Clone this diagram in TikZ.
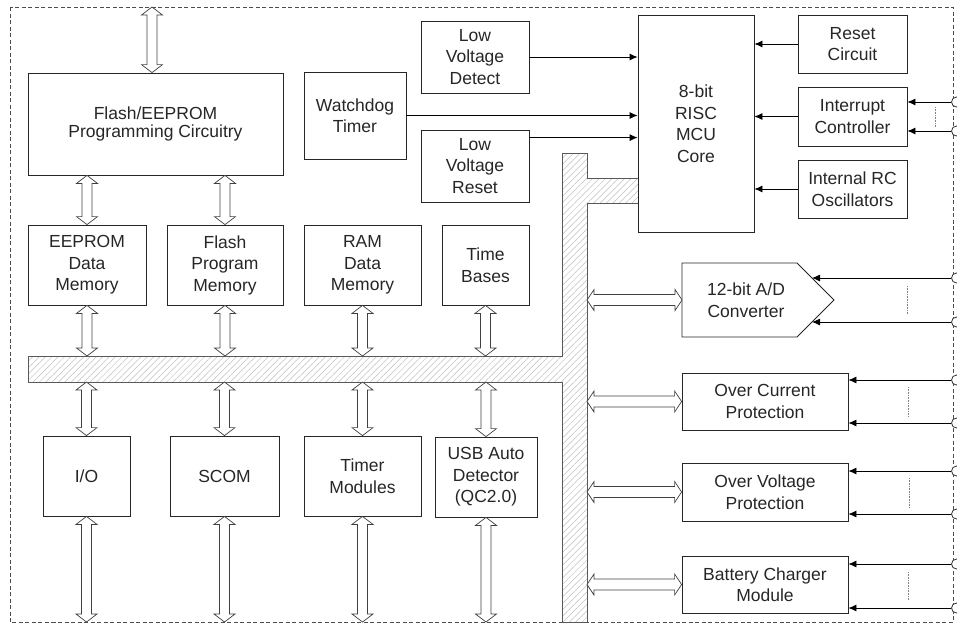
\documentclass[tikz,border=0pt]{standalone}
\usepackage{fontspec}
\setmainfont{Liberation Sans}
\usetikzlibrary{arrows.meta,patterns.meta,calc}
\newcommand\VArrow[2]{%
  \path[busarrow] let \p1=(#1), \p2=(#2) in
   (\x1,\y1) -- (\x1+10.5pt,\y1-8pt) -- (\x1+5pt,\y1-8pt) -- (\x1+5pt,\y2+8pt) -- (\x1+10.5pt,\y2+8pt)
   -- (\x1,\y2) -- (\x1-10.5pt,\y2+8pt) -- (\x1-5pt,\y2+8pt) -- (\x1-5pt,\y1-8pt) -- (\x1-10.5pt,\y1-8pt) -- cycle;}
\newcommand\HArrow[2]{%
  \path[busarrow] let \p1=(#1), \p2=(#2) in
   (\x1,\y1) -- (\x1+7pt,\y1+10.5pt) -- (\x1+7pt,\y1+5.5pt) -- (\x2-7pt,\y1+5.5pt) -- (\x2-7pt,\y1+10.5pt)
   -- (\x2,\y1) -- (\x2-7pt,\y1-10.5pt) -- (\x2-7pt,\y1-5.5pt) -- (\x1+7pt,\y1-5.5pt) -- (\x1+7pt,\y1-10.5pt) -- cycle;}
\begin{document}
\begin{tikzpicture}[x=1pt,y=-1pt,
  box/.style={draw=black!85, line width=0.8pt, inner sep=0pt, align=center, text=black!85,
    font=\fontsize{17.5}{21.5}\selectfont},
  txt/.style={inner sep=0pt, align=center, text=black!85, font=\fontsize{17.5}{21.5}\selectfont},
  busarrow/.style={draw=black!75, line width=0.7pt, fill=white},
  sig/.style={draw=black, line width=0.8pt, -{Latex[length=8pt,width=7pt]}},
  pin/.style={circle, draw=black!80, fill=white, line width=0.8pt, minimum size=10pt, inner sep=0pt},
  dots/.style={draw=gray, line width=0.6pt, densely dotted},
  bus/.style={draw=black!65, line width=0.8pt, pattern={Lines[angle=45,distance=4.5pt,line width=0.5pt]}, pattern color=gray!50}
]
\useasboundingbox (0,0) rectangle (957,625);
% border
\draw[black!70, line width=0.7pt, dash pattern=on 4pt off 2.5pt] (10,7) rectangle (953,622);

% named reference coordinates
\coordinate (busTop) at (0,356);
\coordinate (busBot) at (0,382);
\coordinate (busR) at (587,0);
\coordinate (botE) at (0,622);
\coordinate (topE) at (152,7);

% bus
\draw[bus] (28,356) -- (562,356) -- (562,153) -- (587,153) -- (587,178) -- (638,178) -- (638,203)
  -- (587,203) -- (587,622) -- (562,622) -- (562,382) -- (28,382) -- cycle;

% left blocks
\node[box, minimum width=255pt, minimum height=102pt, font=\fontsize{17.5}{18.5}\selectfont] (flash) at (155.5,124) {Flash/EEPROM\\Programming Circuitry};
\node[box, minimum width=102pt, minimum height=87pt] (wdt) at (355,115.5) {Watchdog\\Timer};
\node[box, minimum width=108pt, minimum height=72pt] (lvd) at (475,57) {Low\\Voltage\\Detect};
\node[box, minimum width=108pt, minimum height=72pt] (lvr) at (475,166) {Low\\Voltage\\Reset};
\node[box, minimum width=116pt, minimum height=217pt, fill=white] (core) at (696,123.5) {8-bit\\RISC\\MCU\\Core};
\node[box, minimum width=109pt, minimum height=58pt] (reset) at (852.5,44) {Reset\\Circuit};
\node[box, minimum width=109pt, minimum height=59pt] (intc) at (852.5,116.5) {Interrupt\\Controller};
\node[box, minimum width=109pt, minimum height=58pt] (rcosc) at (852.5,189) {Internal RC\\Oscillators};

\node[box, minimum width=118pt, minimum height=80pt] (eep) at (87,265) {EEPROM\\Data\\Memory};
\node[box, minimum width=116pt, minimum height=80pt] (fpm) at (225,265) {Flash\\Program\\Memory};
\node[box, minimum width=117pt, minimum height=80pt] (ram) at (362.5,265) {RAM\\Data\\Memory};
\node[box, minimum width=87pt, minimum height=80pt] (tb) at (485.5,265) {Time\\Bases};

\node[box, minimum width=87pt, minimum height=80pt] (io) at (86.5,476) {I/O};
\node[box, minimum width=109pt, minimum height=80pt] (scom) at (224.5,476) {SCOM};
\node[box, minimum width=117pt, minimum height=80pt] (tmr) at (362.5,476) {Timer\\Modules};
\node[box, minimum width=102pt, minimum height=80pt] (usb) at (486,477) {USB Auto\\Detector\\(QC2.0)};

% right peripherals
\draw[draw=black!85, line width=0.8pt] (682,263) -- (797,263) -- (834,300) -- (797,337) -- (682,337) -- cycle;
\node[txt] (adc) at (746,300) {12-bit A/D\\Converter};
\coordinate (adcW) at (682,300);
\coordinate (adcIn1) at (812,278);
\coordinate (adcIn2) at (812,322);
\node[box, minimum width=166pt, minimum height=57pt] (ocp) at (765,401.5) {Over Current\\Protection};
\node[box, minimum width=166pt, minimum height=58pt] (ovp) at (765,492) {Over Voltage\\Protection};
\node[box, minimum width=166pt, minimum height=57pt] (bcm) at (765,584.5) {Battery Charger\\Module};

% hollow bus arrows (vertical)
\VArrow{topE}{topE |- flash.north}
\VArrow{eep.north |- flash.south}{eep.north}
\VArrow{fpm.north |- flash.south}{fpm.north}
\VArrow{eep.south}{eep.south |- busTop}
\VArrow{fpm.south}{fpm.south |- busTop}
\VArrow{ram.south}{ram.south |- busTop}
\VArrow{tb.south}{tb.south |- busTop}
\VArrow{io.north |- busBot}{io.north}
\VArrow{scom.north |- busBot}{scom.north}
\VArrow{tmr.north |- busBot}{tmr.north}
\VArrow{usb.north |- busBot}{usb.north}
\VArrow{io.south}{io.south |- botE}
\VArrow{scom.south}{scom.south |- botE}
\VArrow{tmr.south}{tmr.south |- botE}
\VArrow{usb.south}{usb.south |- botE}
% hollow bus arrows (horizontal)
\HArrow{busR |- adcW}{adcW}
\HArrow{busR |- ocp.west}{ocp.west}
\HArrow{busR |- ovp.west}{ovp.west}
\HArrow{busR |- bcm.west}{bcm.west}

% signals into core
\coordinate (lvrOut) at ([yshift=-8pt]lvr.north east);
\draw[sig] (lvd.east) -- (lvd.east -| core.west);
\draw[sig] (wdt.east) -- (wdt.east -| core.west);
\draw[sig] (lvrOut) -- (lvrOut -| core.west);
\draw[sig] (reset.west) -- (reset.west -| core.east);
\draw[sig] (intc.west) -- (intc.west -| core.east);
\draw[sig] (rcosc.west) -- (rcosc.west -| core.east);

% external pins
\node[pin] (i1) at (956.5,102) {};
\node[pin] (i2) at (956.5,131) {};
\node[pin] (a1) at (956.5,278) {};
\node[pin] (a2) at (956.5,322) {};
\node[pin] (c1) at (956.5,380) {};
\node[pin] (c2) at (956.5,423) {};
\node[pin] (v1) at (956.5,471) {};
\node[pin] (v2) at (956.5,514) {};
\node[pin] (b1) at (956.5,564) {};
\node[pin] (b2) at (956.5,608) {};
\draw[sig] (i1.west) -- (i1.west -| intc.east);
\draw[sig] (i2.west) -- (i2.west -| intc.east);
\draw[sig] (a1.west) -- (adcIn1);
\draw[sig] (a2.west) -- (adcIn2);
\draw[sig] (c1.west) -- (c1.west -| ocp.east);
\draw[sig] (c2.west) -- (c2.west -| ocp.east);
\draw[sig] (v1.west) -- (v1.west -| ovp.east);
\draw[sig] (v2.west) -- (v2.west -| ovp.east);
\draw[sig] (b1.west) -- (b1.west -| bcm.east);
\draw[sig] (b2.west) -- (b2.west -| bcm.east);

% dotted "..." markers
\draw[dots] (935,107) -- (935,127);
\draw[dots] (907,286) -- (907,314);
\draw[dots] (908,387) -- (908,416);
\draw[dots] (909,478) -- (909,507);
\draw[dots] (908,572) -- (908,600);
\end{tikzpicture}
\end{document}
